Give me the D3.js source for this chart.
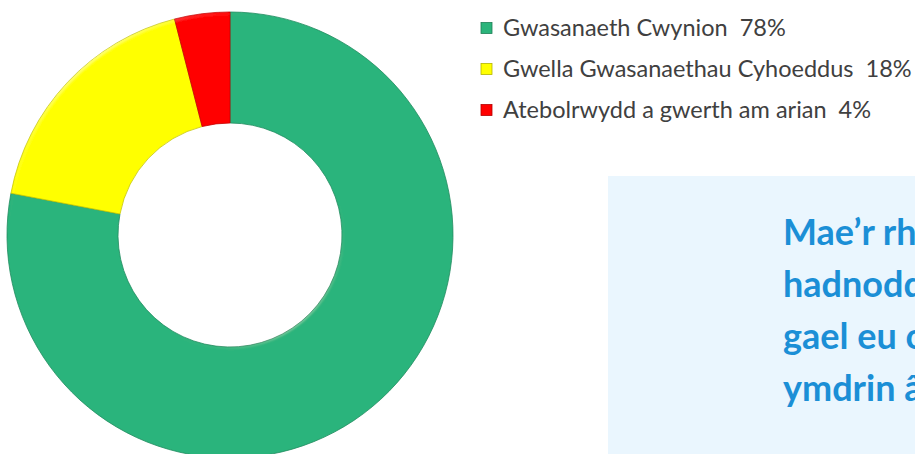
<!DOCTYPE html>
<html>
<head>
<meta charset="utf-8">
<script src="https://cdn.jsdelivr.net/npm/d3@7"></script>
<style>
  html, body { margin: 0; padding: 0; background: #fff; overflow: hidden; }
  text { white-space: pre; }
</style>
</head>
<body>
<div id="chart"></div>
<script>
const categories = ["Gwasanaeth Cwynion", "Gwella Gwasanaethau Cyhoeddus", "Atebolrwydd a gwerth am arian"]
const values = [78, 18, 4]
const sliceColors = ["#2bb47b", "#ffff00", "#ff0000"]
const calloutLines = ["Mae’r rh", "hadnodd", "gael eu c", "ymdrin â"]

const width = 915, height = 454
const center = {x: 230, y: 235}
const radius = {outer: 223, inner: 112}

const svg = d3.select("#chart")
    .append("svg")
    .attr("width", width)
    .attr("height", height)

const defs = svg.append("defs")

// soft bevel on the ring edges
const bevel = defs.append("filter").attr("id", "bevel")
    .attr("x", "-5%").attr("y", "-5%").attr("width", "110%").attr("height", "110%")
bevel.append("feGaussianBlur").attr("in", "SourceAlpha").attr("stdDeviation", 2).attr("result", "blur")
bevel.append("feSpecularLighting")
    .attr("in", "blur").attr("surfaceScale", 2).attr("specularConstant", 0.5)
    .attr("specularExponent", 30).attr("lighting-color", "#ffffff").attr("result", "spec")
    .append("fePointLight").attr("x", -400).attr("y", -500).attr("z", 200)
bevel.append("feComposite").attr("in", "spec").attr("in2", "SourceAlpha")
    .attr("operator", "in").attr("result", "specIn")
bevel.append("feComposite").attr("in", "SourceGraphic").attr("in2", "specIn")
    .attr("operator", "arithmetic").attr("k1", 0).attr("k2", 1).attr("k3", 0.25).attr("k4", 0)

const pie = d3.pie().sort(null).value(d => d)
const arc = d3.arc().innerRadius(radius.inner).outerRadius(radius.outer)

svg.append("g")
    .attr("transform", `translate(${center.x},${center.y})`)
    .attr("filter", "url(#bevel)")
    .selectAll("path")
    .data(pie(values))
    .join("path")
    .attr("d", arc)
    .attr("fill", (d, i) => sliceColors[i])
    .attr("stroke", (d, i) => d3.color(sliceColors[i]).darker(0.7))
    .attr("stroke-width", 0.8)

// legend
const legend = svg.append("g").attr("transform", "translate(481,28)")
const rows = legend.selectAll("g")
    .data(categories)
    .join("g")
    .attr("transform", (d, i) => `translate(0,${i * 41})`)

rows.append("rect")
    .attr("x", 0).attr("y", -5.5)
    .attr("width", 11).attr("height", 11)
    .attr("fill", (d, i) => sliceColors[i])
    .attr("stroke", (d, i) => d3.color(sliceColors[i]).darker(1))
    .attr("stroke-width", 0.8)

rows.append("text")
    .attr("x", 22)
    .attr("dy", "0.35em")
    .attr("font-family", "Lato, 'Open Sans', sans-serif")
    .attr("font-size", 23.5)
    .attr("fill", "#404040")
    .text((d, i) => `${d}  ${values[i]}%`)

// callout box
svg.append("rect")
    .attr("x", 608).attr("y", 176)
    .attr("width", width - 608).attr("height", height - 176)
    .attr("fill", "#eaf6fe")

svg.append("g")
    .selectAll("text")
    .data(calloutLines)
    .join("text")
    .attr("x", 783)
    .attr("y", (d, i) => 245 + i * 52)
    .attr("font-family", "Lato, 'Open Sans', sans-serif")
    .attr("font-weight", "bold")
    .attr("font-size", 36)
    .attr("fill", "#1b8fd6")
    .text(d => d)
</script>
</body>
</html>
